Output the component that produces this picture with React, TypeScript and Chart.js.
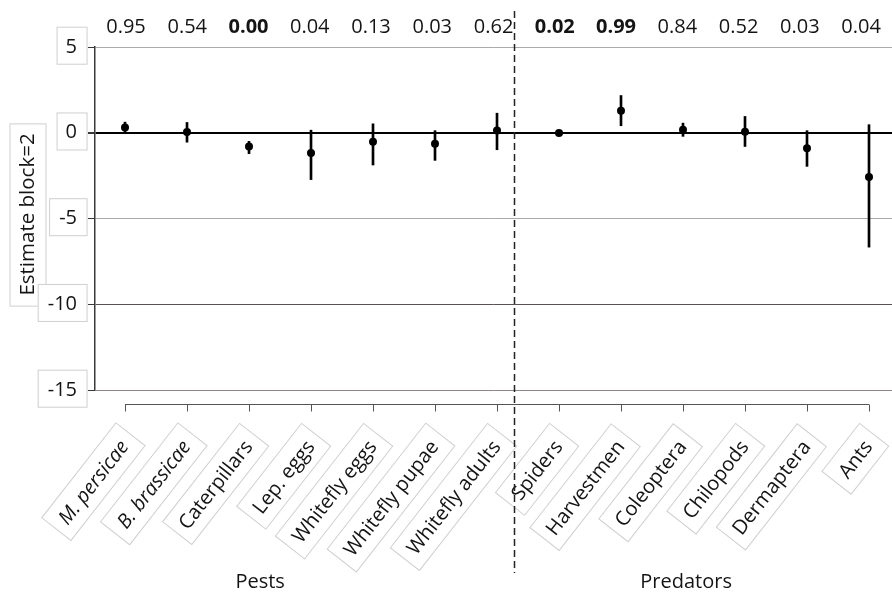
import React, { useEffect, useRef } from 'react';
import { Chart, registerables } from 'chart.js';

Chart.register(...registerables);

// ---- data ----
const categories = [
  'M. persicae', 'B. brassicae', 'Caterpillars', 'Lep. eggs', 'Whitefly eggs',
  'Whitefly pupae', 'Whitefly adults', 'Spiders', 'Harvestmen', 'Coleoptera',
  'Chilopods', 'Dermaptera', 'Ants',
];
const italicCategories = ['M. persicae', 'B. brassicae'];
const pValues = ['0.95', '0.54', '0.00', '0.04', '0.13', '0.03', '0.62', '0.02', '0.99', '0.84', '0.52', '0.03', '0.04'];
const boldPValues = [false, false, true, false, false, false, false, true, true, false, false, false, false];
const estimates = [0.3, 0.04, -0.8, -1.18, -0.52, -0.64, 0.13, -0.02, 1.28, 0.17, 0.06, -0.91, -2.58];
const lowerCI = [0.0, -0.55, -1.22, -2.73, -1.88, -1.61, -0.99, -0.1, 0.41, -0.21, -0.8, -1.96, -6.67];
const upperCI = [0.62, 0.6, -0.5, 0.15, 0.52, 0.12, 1.14, 0.06, 2.17, 0.56, 0.95, 0.12, 0.47];
const yTicks = [5, 0, -5, -10, -15];
const groupLabels = ['Pests', 'Predators'];
const groupCenters = [2.18, 9.05];
const dividerAt = 6.27;
const yTitle = 'Estimate block=2';

const FONT = '"Open Sans", sans-serif';
const TEXT = '#141414';

const gridColorFor = (v: number) => {
  if (v === 0) return '#000000';
  if (v === -10) return '#5a5050';
  if (v === -15) return '#8c8686';
  return '#aaaaaa';
};

const drawBox = (ctx: CanvasRenderingContext2D, x: number, y: number, w: number, h: number) => {
  ctx.fillStyle = '#ffffff';
  ctx.fillRect(x, y, w, h);
  ctx.strokeStyle = '#cfcfcf';
  ctx.lineWidth = 1;
  ctx.strokeRect(x + 0.5, y + 0.5, w, h);
};

const decorPlugin = {
  id: 'decor',
  beforeDraw(chart: any) {
    const ctx: CanvasRenderingContext2D = chart.ctx;
    const area = chart.chartArea;
    ctx.save();
    // y title with box
    const tcx = 27.5;
    const tcy = (area.top + area.bottom) / 2 - 4;
    ctx.font = `20.5px ${FONT}`;
    const tw = ctx.measureText(yTitle).width;
    drawBox(ctx, tcx - 18, tcy - tw / 2 - 10, 36, tw + 20);
    // tick label boxes
    for (const key of ['y', 'x']) {
      const scale = chart.scales[key];
      const items = scale.getLabelItems();
      for (const item of items) {
        if (!item.label) continue;
        const o = item.options;
        ctx.save();
        ctx.translate(o.translation[0], o.translation[1]);
        ctx.rotate(o.rotation);
        ctx.font = item.font.string;
        ctx.textAlign = o.textAlign;
        ctx.textBaseline = o.textBaseline;
        const m = ctx.measureText(item.label);
        const padX = 10;
        const left = -m.actualBoundingBoxLeft - padX;
        const right = m.actualBoundingBoxRight + padX;
        const asc = m.fontBoundingBoxAscent ?? 14;
        const desc = m.fontBoundingBoxDescent ?? 6;
        const top = item.textOffset - asc - 5;
        const bottom = item.textOffset + desc + 5;
        drawBox(ctx, left, top, right - left, bottom - top);
        ctx.restore();
      }
    }
    // y title text
    ctx.save();
    ctx.translate(tcx, tcy);
    ctx.rotate(-Math.PI / 2);
    ctx.font = `20.5px ${FONT}`;
    ctx.fillStyle = TEXT;
    ctx.textAlign = 'center';
    ctx.textBaseline = 'middle';
    ctx.fillText(yTitle, 0, 1);
    ctx.restore();
    ctx.restore();
  },
  afterDraw(chart: any) {
    const ctx: CanvasRenderingContext2D = chart.ctx;
    const area = chart.chartArea;
    const xs = chart.scales.x;
    ctx.save();
    // category axis line + ticks
    const ay = Math.round(area.bottom + 14) + 0.5;
    ctx.strokeStyle = '#555555';
    ctx.lineWidth = 1;
    ctx.beginPath();
    ctx.moveTo(xs.getPixelForValue(0), ay);
    ctx.lineTo(xs.getPixelForValue(categories.length - 1), ay);
    for (let i = 0; i < categories.length; i++) {
      const px = Math.round(xs.getPixelForValue(i)) + 0.5;
      ctx.moveTo(px, ay);
      ctx.lineTo(px, ay + 7);
    }
    ctx.stroke();
    // divider
    const dx = Math.round(xs.getPixelForValue(dividerAt)) + 0.5;
    ctx.strokeStyle = '#222222';
    ctx.lineWidth = 1.5;
    ctx.setLineDash([7, 4]);
    ctx.beginPath();
    ctx.moveTo(dx, 11);
    ctx.lineTo(dx, 573);
    ctx.stroke();
    ctx.setLineDash([]);
    // p-values
    ctx.fillStyle = TEXT;
    ctx.textAlign = 'center';
    ctx.textBaseline = 'middle';
    pValues.forEach((p, i) => {
      ctx.font = `${boldPValues[i] ? 'bold ' : ''}20px ${FONT}`;
      ctx.fillText(p, xs.getPixelForValue(0.016 + 0.988 * i), 27);
    });
    // group labels
    ctx.font = `20px ${FONT}`;
    groupLabels.forEach((g, i) => {
      ctx.fillText(g, xs.getPixelForValue(groupCenters[i]), 582);
    });
    ctx.restore();
  },
};

export default function App() {
  const ref = useRef<HTMLCanvasElement | null>(null);
  useEffect(() => {
    if (!ref.current) return;
    const chart = new Chart(ref.current, {
      type: 'bar',
      data: {
        datasets: [
          {
            type: 'scatter',
            data: estimates.map((y, i) => ({ x: i, y })),
            pointRadius: 4,
            pointHoverRadius: 4,
            pointBackgroundColor: '#000000',
            pointBorderWidth: 0,
            backgroundColor: '#000000',
            borderColor: '#000000',
            order: 0,
          } as any,
          {
            type: 'bar',
            data: categories.map((_, i) => ({ x: i, y: [lowerCI[i], upperCI[i]] })),
            backgroundColor: '#000000',
            borderWidth: 0,
            barThickness: 2,
            order: 1,
          } as any,
        ],
      },
      options: {
        responsive: false,
        animation: false,
        events: [],
        layout: { padding: { top: 47, left: 0, right: 0, bottom: 0 }, autoPadding: false } as any,
        plugins: { legend: { display: false }, tooltip: { enabled: false } },
        scales: {
          x: {
            type: 'linear',
            offset: false,
            min: -0.484,
            max: 12.371,
            grid: { display: false, drawTicks: false, offset: false },
            border: { display: false },
            afterBuildTicks: (s: any) => {
              s.ticks = categories.map((_, i) => ({ value: i }));
            },
            afterFit: (s: any) => {
              s.height = 206;
              s.paddingLeft = 0;
              s.paddingRight = 0;
            },
            ticks: {
              autoSkip: false,
              minRotation: 52,
              maxRotation: 52,
              padding: 46,
              color: TEXT,
              callback: (v: any) => categories[Math.round(Number(v))] ?? '',
              font: (c: any) => ({
                family: FONT,
                size: 20,
                style: italicCategories.includes(categories[c.index]) ? 'italic' : 'normal',
              }),
            },
          } as any,
          y: {
            min: -15,
            max: 5,
            afterBuildTicks: (s: any) => {
              s.ticks = yTicks.map((v) => ({ value: v }));
            },
            afterFit: (s: any) => {
              s.width = 95;
            },
            grid: {
              color: (c: any) => gridColorFor(c.tick?.value),
              lineWidth: (c: any) => (c.tick?.value === 0 ? 2 : 1),
              tickLength: 7,
              tickColor: '#3a3a3a',
            },
            border: { display: true, color: '#3a3a3a', width: 1.5 },
            ticks: {
              padding: 11,
              color: TEXT,
              font: { family: FONT, size: 20 },
            },
          } as any,
        },
      },
      plugins: [decorPlugin],
    });
    return () => chart.destroy();
  }, []);
  return (
    <div style={{ position: 'absolute', left: 0, top: 0, width: 892, height: 596, background: '#fff' }}>
      <canvas ref={ref} width={892} height={596} style={{ display: 'block' }} />
    </div>
  );
}
